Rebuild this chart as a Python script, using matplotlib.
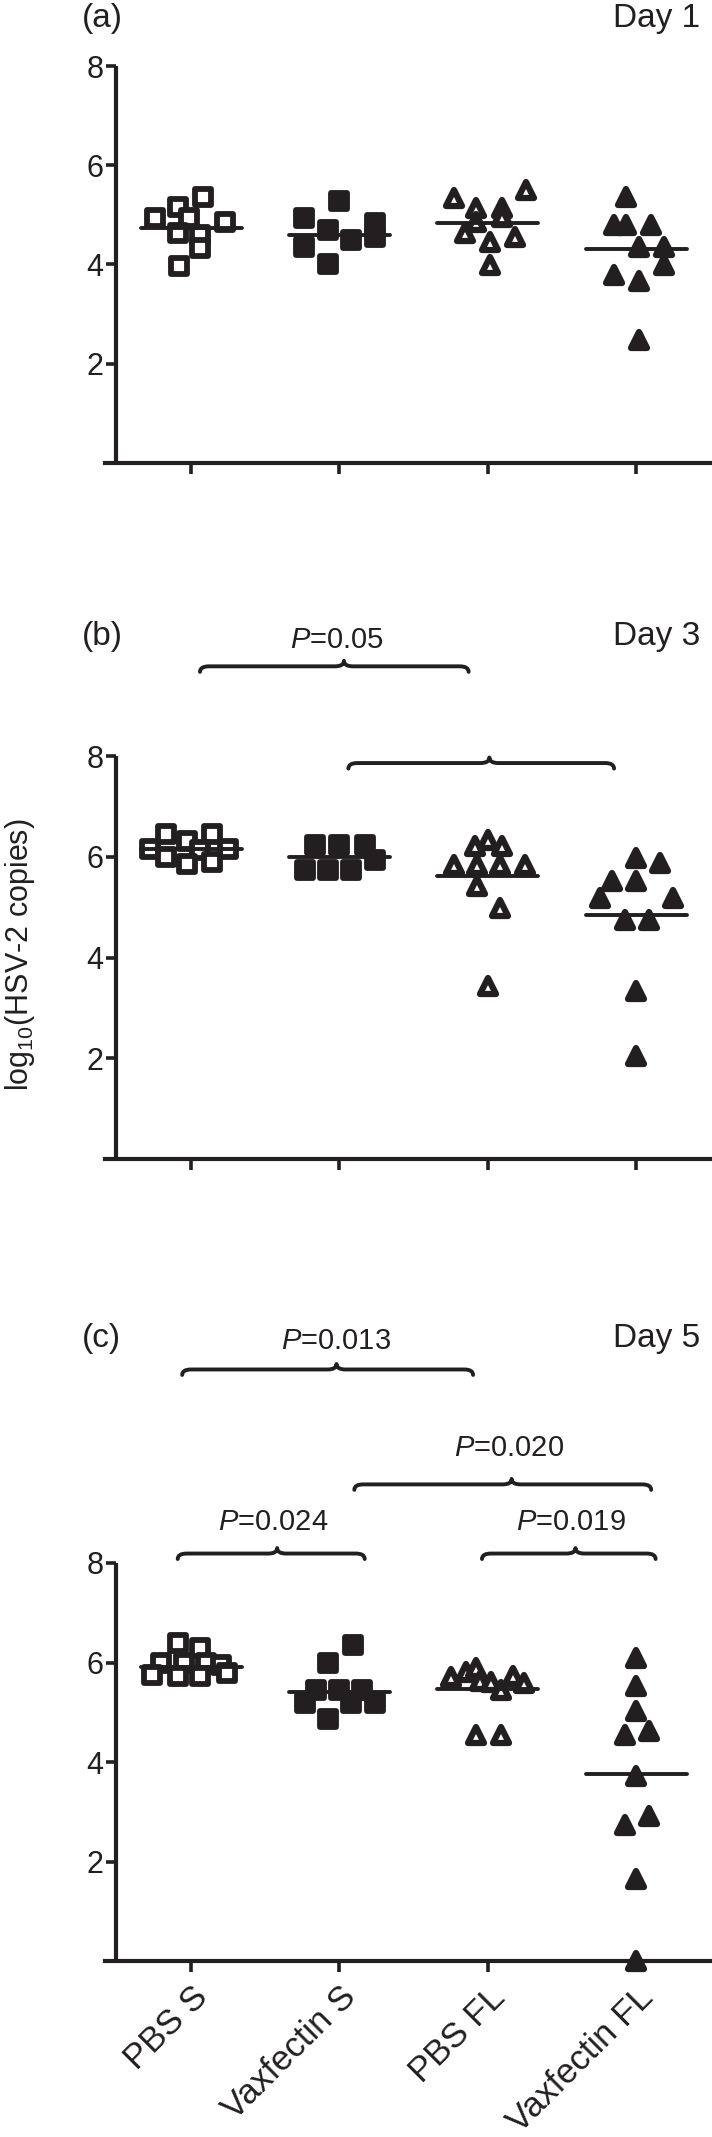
import matplotlib
matplotlib.use("Agg")
import matplotlib.pyplot as plt
from matplotlib.path import Path
from matplotlib.patches import PathPatch
from matplotlib.markers import MarkerStyle
import matplotlib.transforms as mtransforms

plt.rcParams['font.family'] = ['Liberation Sans', 'DejaVu Sans']
plt.rcParams['mathtext.fontset'] = 'custom'
plt.rcParams['mathtext.rm'] = 'Liberation Sans'
plt.rcParams['mathtext.it'] = 'Liberation Sans:italic'

INK = '#231f20'

categories = ['PBS S', 'Vaxfectin S', 'PBS FL', 'Vaxfectin FL']
yticks = [2, 4, 6, 8]

# ---- Day 1 ----
day1_pbs_s = [4.93, 5.16, 4.93, 5.37, 4.86, 4.63, 4.59, 4.33, 3.96]
day1_pbs_s_dx = [-0.245, -0.09, -0.015, 0.077, 0.23, -0.09, 0.06, 0.06, -0.083]
day1_vax_s = [4.93, 5.27, 4.70, 4.36, 4.02, 4.49, 4.83, 4.56]
day1_vax_s_dx = [-0.236, 0.0, -0.077, -0.236, -0.077, 0.077, 0.236, 0.236]
day1_pbs_fl = [5.33, 5.50, 5.13, 5.13, 4.96, 4.86, 4.63, 4.46, 4.56, 3.99]
day1_pbs_fl_dx = [-0.23, 0.26, -0.077, 0.092, 0.092, -0.077, -0.153, 0.015, 0.184, 0.015]
day1_vax_fl = [5.37, 4.80, 4.80, 4.80, 4.36, 4.36, 3.99, 3.79, 3.66, 2.48]
day1_vax_fl_dx = [-0.067, -0.153, -0.067, 0.098, 0.015, 0.184, 0.184, -0.153, 0.015, 0.015]
day1_means = [4.74, 4.59, 4.84, 4.31]

# ---- Day 3 ----
day3_pbs_s = [6.45, 6.45, 6.31, 6.15, 6.15, 6.13, 6.00, 5.86, 5.90]
day3_pbs_s_dx = [-0.17, 0.14, -0.03, -0.28, 0.25, 0.06, -0.17, -0.03, 0.14]
day3_vax_s = [6.23, 6.23, 6.23, 5.93, 5.74, 5.74, 5.74]
day3_vax_s_dx = [-0.167, 0.0, 0.17, 0.24, -0.23, -0.077, 0.08]
day3_pbs_fl = [6.21, 6.34, 6.21, 5.84, 5.84, 5.84, 5.84, 5.41, 4.98, 3.43]
day3_pbs_fl_dx = [-0.086, 0.0, 0.095, -0.23, -0.074, 0.083, 0.25, -0.074, 0.083, 0.0]
day3_vax_fl = [5.97, 5.88, 5.51, 5.51, 5.18, 5.18, 4.75, 4.75, 3.33, 2.04]
day3_vax_fl_dx = [0.0, 0.16, -0.164, 0.0, -0.243, 0.25, -0.074, 0.083, 0.0, 0.0]
day3_means = [6.15, 6.00, 5.61, 4.85]

# ---- Day 5 ----
day5_pbs_s = [6.40, 6.30, 5.98, 5.98, 5.98, 5.95, 5.75, 5.72, 5.72, 5.78]
day5_pbs_s_dx = [-0.09, 0.06, -0.2, -0.05, 0.1, 0.2, -0.26, -0.09, 0.06, 0.24]
day5_vax_s = [6.35, 5.98, 5.44, 5.44, 5.44, 5.18, 5.18, 5.18, 4.87]
day5_vax_s_dx = [0.09, -0.077, -0.155, 0.0, 0.15, -0.23, 0.08, 0.24, -0.077]
day5_pbs_fl = [5.70, 5.80, 5.88, 5.62, 5.60, 5.45, 5.72, 5.58, 4.55, 4.55]
day5_pbs_fl_dx = [-0.25, -0.15, -0.08, -0.05, 0.02, 0.09, 0.17, 0.24, -0.08, 0.09]
day5_vax_fl = [6.09, 5.52, 5.02, 4.55, 4.62, 3.71, 2.74, 2.91, 1.64, 0.0]
day5_vax_fl_dx = [0.0, 0.0, 0.0, -0.074, 0.083, 0.0, -0.074, 0.083, 0.0, 0.0]
day5_means = [5.91, 5.41, 5.46, 3.75]

# significance brackets: (x_start, x_end, y, x_peak)
day3_brackets = [(1.06, 2.87, 9.78, 2.03), (2.06, 3.85, 7.86, 3.01)]
day3_pvalues = [('0.05', 1.98, 10.3)]
day5_brackets = [(0.94, 2.90, 11.89, 1.98), (2.10, 4.10, 9.58, 3.16),
                 (0.91, 2.17, 8.19, 1.58), (2.96, 4.13, 8.19, 3.59)]
day5_pvalues = [('0.013', 1.98, 12.47), ('0.020', 3.14, 10.32),
                ('0.024', 1.55, 8.82), ('0.019', 3.56, 8.82)]

panels = [
    dict(tag='(a)', day='Day 1', label_y=8.95,
         groups=[(day1_pbs_s, day1_pbs_s_dx), (day1_vax_s, day1_vax_s_dx),
                 (day1_pbs_fl, day1_pbs_fl_dx), (day1_vax_fl, day1_vax_fl_dx)],
         means=day1_means, brackets=[], pvalues=[], px=(66, 463)),
    dict(tag='(b)', day='Day 3', label_y=10.38,
         groups=[(day3_pbs_s, day3_pbs_s_dx), (day3_vax_s, day3_vax_s_dx),
                 (day3_pbs_fl, day3_pbs_fl_dx), (day3_vax_fl, day3_vax_fl_dx)],
         means=day3_means, brackets=day3_brackets, pvalues=day3_pvalues, px=(756, 1159)),
    dict(tag='(c)', day='Day 5', label_y=12.51,
         groups=[(day5_pbs_s, day5_pbs_s_dx), (day5_vax_s, day5_vax_s_dx),
                 (day5_pbs_fl, day5_pbs_fl_dx), (day5_vax_fl, day5_vax_fl_dx)],
         means=day5_means, brackets=day5_brackets, pvalues=day5_pvalues, px=(1563, 1961)),
]

marker_kinds = ['s', 's', '^', '^']
marker_filled = [False, True, False, True]

W, H = 712, 2137
fig = plt.figure(figsize=(W / 100, H / 100), dpi=100)
fig.patch.set_facecolor('white')

FS_TICK = 22
FS_TAG = 24
FS_P = 21
FS_X = 25
FS_YLAB = 22


def brace(ax, x0, x1, y, xm, h=0.11, w=0.06):
    verts = [(x0, y - h), (x0, y), (x0 + w, y),
             (xm - w, y), (xm, y), (xm, y + h),
             (xm, y), (xm + w, y),
             (x1 - w, y), (x1, y), (x1, y - h)]
    codes = [Path.MOVETO, Path.CURVE3, Path.CURVE3,
             Path.LINETO, Path.CURVE3, Path.CURVE3,
             Path.CURVE3, Path.CURVE3,
             Path.LINETO, Path.CURVE3, Path.CURVE3]
    patch = PathPatch(Path(verts, codes), fill=False, lw=2.8, edgecolor=INK,
                      capstyle='round', joinstyle='round', clip_on=False)
    ax.add_patch(patch)


for i, p in enumerate(panels):
    top, bot = p['px']
    left_px = 105
    ax = fig.add_axes([left_px / W, 1 - bot / H, (W - left_px) / W, (bot - top) / H])
    ax.set_xlim(0.42, 4.51)
    ax.set_ylim(0, 8)
    for s in ['top', 'right']:
        ax.spines[s].set_visible(False)
    for s in ['left', 'bottom']:
        ax.spines[s].set_linewidth(3.0)
        ax.spines[s].set_color(INK)
    ax.spines['left'].set_position(('data', 0.495))
    ax.spines['left'].set_capstyle('butt')

    for g, ((vals, dx), mk, filled) in enumerate(zip(p['groups'], marker_kinds, marker_filled)):
        xs = [g + 1 + d for d in dx]
        if mk == 's':
            ms, mew = 11.0, 4.2
        else:
            ms, mew = 11.5, 4.5
        ax.plot(xs, vals, linestyle='none',
                marker=MarkerStyle(mk, joinstyle='round'),
                ms=ms, mew=mew, mec=INK, mfc=INK if filled else 'white',
                clip_on=False, zorder=3)
        ax.hlines(p['means'][g], g + 1 - 0.34, g + 1 + 0.34, colors=INK, lw=2.8,
                  zorder=4, capstyle='round')

    ax.set_yticks(yticks)
    ax.set_yticklabels([str(t) for t in yticks])
    ax.set_xticks([1, 2, 3, 4])
    if i == 2:
        ax.set_xticklabels(categories, rotation=45, ha='right', va='top',
                           rotation_mode='anchor', fontsize=FS_X)
        offset = mtransforms.ScaledTranslation(0.17, -0.02, fig.dpi_scale_trans)
        for lab in ax.get_xticklabels():
            lab.set_transform(lab.get_transform() + offset)
    else:
        ax.set_xticklabels([])
    ax.tick_params(axis='y', direction='out', length=7, width=2.6, color=INK,
                   labelsize=FS_TICK, pad=2, labelcolor=INK)
    ax.tick_params(axis='x', direction='out', length=8, width=2.6, color=INK,
                   labelsize=FS_X, pad=6, labelcolor=INK)

    ax.text(0.265, p['label_y'], p['tag'], ha='left', va='center', fontsize=FS_TAG, color=INK)
    ax.text(4.43, p['label_y'], p['day'], ha='right', va='center', fontsize=FS_TAG, color=INK)

    for (x0, x1, y, xm) in p['brackets']:
        brace(ax, x0, x1, y, xm)
    for (pv, x, y) in p['pvalues']:
        ax.text(x, y, r'$P$=' + pv, ha='center', va='center', fontsize=FS_P, color=INK)

fig.text(20 / W, 1 - 955 / H, r'log$_{10}$(HSV-2 copies)', rotation=90,
         ha='center', va='center', fontsize=FS_YLAB, color=INK)

fig.savefig('out.png', dpi=100, facecolor='white')
